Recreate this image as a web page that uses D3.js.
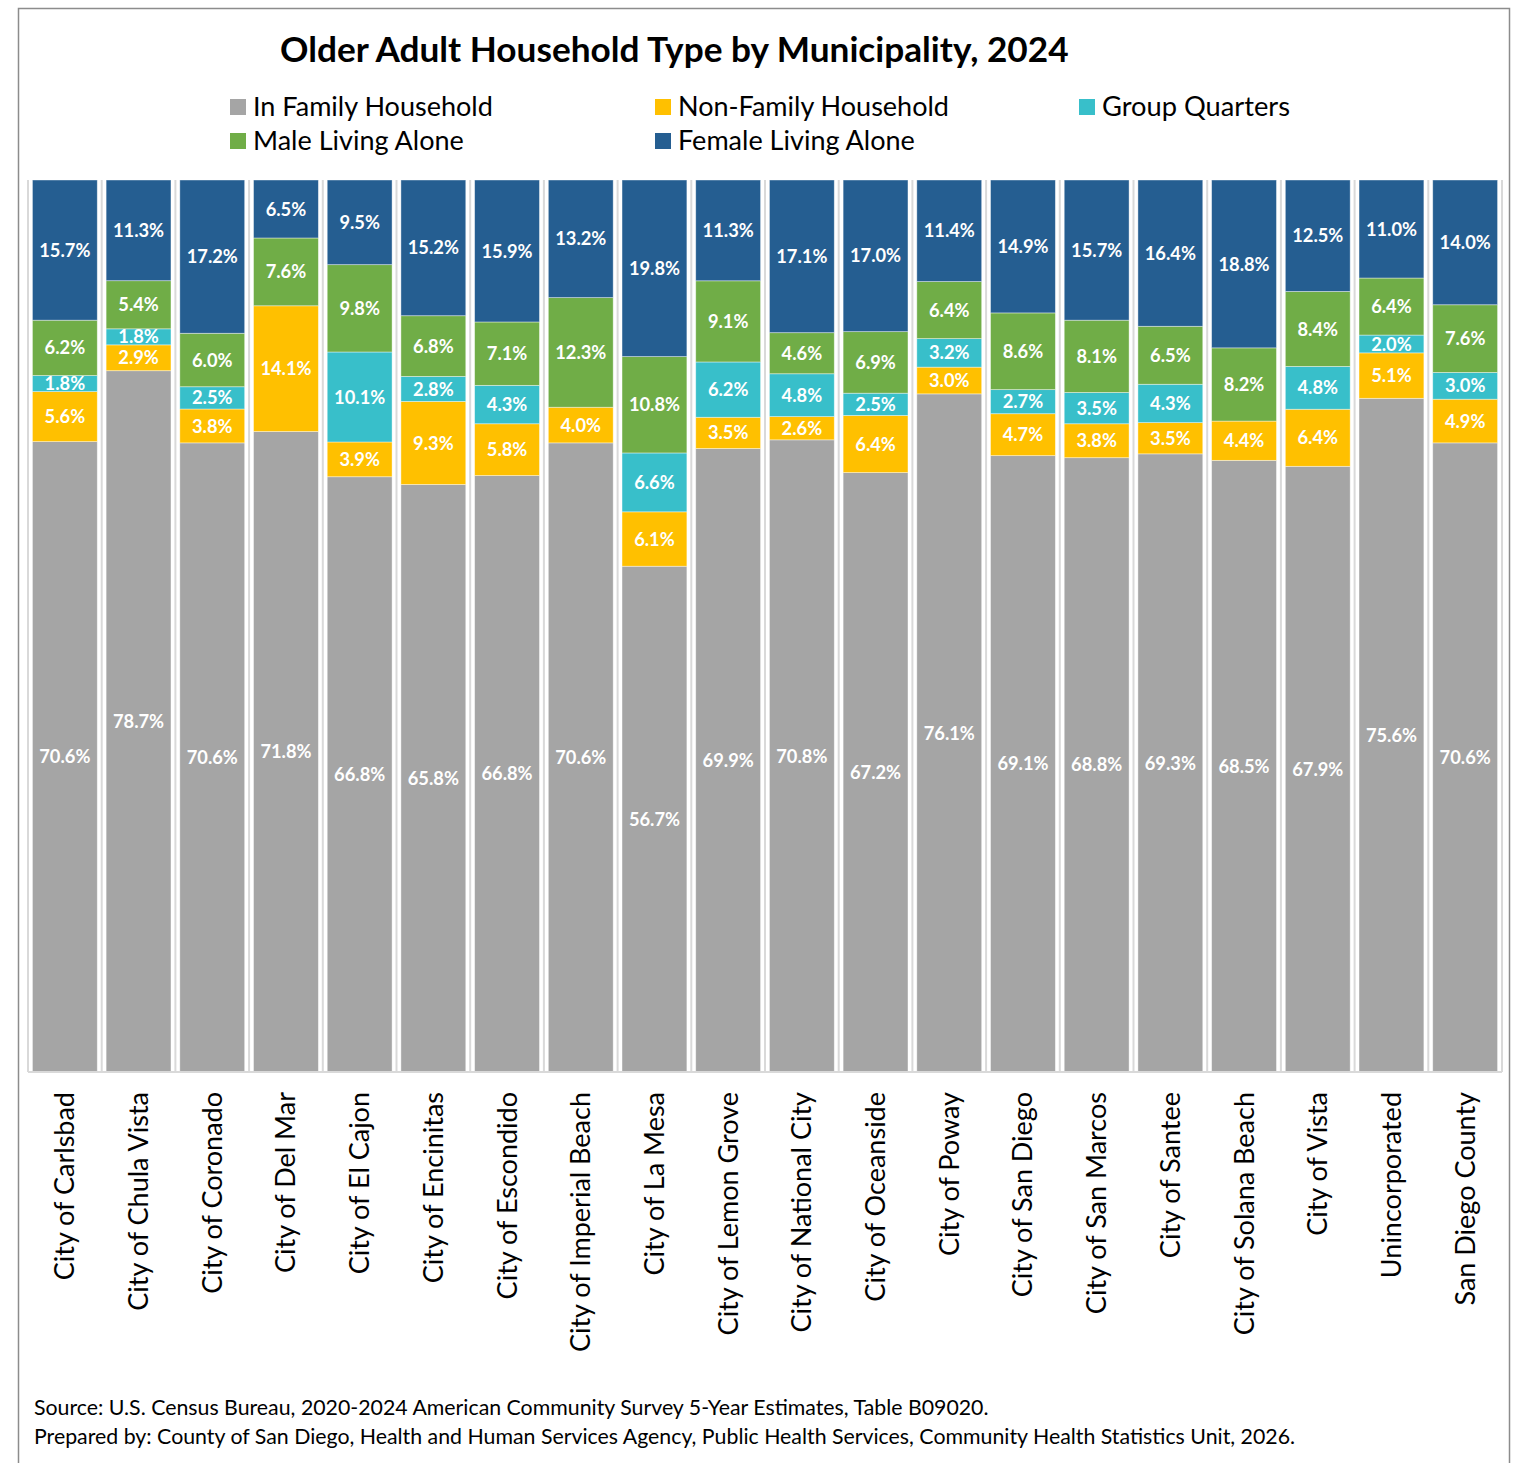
<!DOCTYPE html>
<html>
<head>
<meta charset="utf-8">
<script src="https://cdn.jsdelivr.net/npm/d3@7"></script>
<style>
  body { margin: 0; background: #fff; }
  svg text { font-family: Lato, "Open Sans", sans-serif; }
</style>
</head>
<body>
<div id="chart"></div>
<script>
// data
const places = ["City of Carlsbad", "City of Chula Vista", "City of Coronado", "City of Del Mar",
  "City of El Cajon", "City of Encinitas", "City of Escondido", "City of Imperial Beach",
  "City of La Mesa", "City of Lemon Grove", "City of National City", "City of Oceanside",
  "City of Poway", "City of San Diego", "City of San Marcos", "City of Santee",
  "City of Solana Beach", "City of Vista", "Unincorporated", "San Diego County"];
const inFamily   = [70.6, 78.7, 70.6, 71.8, 66.8, 65.8, 66.8, 70.6, 56.7, 69.9, 70.8, 67.2, 76.1, 69.1, 68.8, 69.3, 68.5, 67.9, 75.6, 70.6];
const nonFamily  = [5.6, 2.9, 3.8, 14.1, 3.9, 9.3, 5.8, 4.0, 6.1, 3.5, 2.6, 6.4, 3.0, 4.7, 3.8, 3.5, 4.4, 6.4, 5.1, 4.9];
const groupQtrs  = [1.8, 1.8, 2.5, 0, 10.1, 2.8, 4.3, 0, 6.6, 6.2, 4.8, 2.5, 3.2, 2.7, 3.5, 4.3, 0, 4.8, 2.0, 3.0];
const maleAlone  = [6.2, 5.4, 6.0, 7.6, 9.8, 6.8, 7.1, 12.3, 10.8, 9.1, 4.6, 6.9, 6.4, 8.6, 8.1, 6.5, 8.2, 8.4, 6.4, 7.6];
const femaleAlone = [15.7, 11.3, 17.2, 6.5, 9.5, 15.2, 15.9, 13.2, 19.8, 11.3, 17.1, 17.0, 11.4, 14.9, 15.7, 16.4, 18.8, 12.5, 11.0, 14.0];
const seriesNames = ["In Family Household", "Non-Family Household", "Group Quarters", "Male Living Alone", "Female Living Alone"];
const seriesColors = ["#a5a5a5", "#ffc000", "#38bfca", "#70ad47", "#255e91"];

const W = 1522, H = 1463;
const margin = { left: 28, right: 20, top: 180, bottom: 391 }; // plot: 28..1502, 180..1072

const svg = d3.select("#chart").append("svg")
  .attr("width", W).attr("height", H);

// outer frame
svg.append("rect")
  .attr("x", 18.5).attr("y", 8.5).attr("width", 1491).attr("height", 1470)
  .attr("fill", "none").attr("stroke", "#8c8c8c").attr("stroke-width", 1.5);

// fit text to a target width (font metrics differ from the original)
function fit(sel, width) {
  const len = sel.node().getComputedTextLength();
  const fs = parseFloat(sel.attr("font-size"));
  sel.attr("font-size", fs * width / len);
}

fit(svg.append("text")
  .attr("x", 280).attr("y", 62)
  .attr("font-size", 32).attr("font-weight", 700).attr("fill", "#000")
  .text("Older Adult Household Type by Municipality, 2024"), 789);

// legend
const legendPos = [[230, 107], [655, 107], [1079, 107], [230, 141], [655, 141]];
const legendWidths = [240, 271, 188, 211, 237];
seriesNames.forEach((name, i) => {
  const [lx, ly] = legendPos[i];
  svg.append("rect").attr("x", lx).attr("y", ly - 8).attr("width", 16).attr("height", 16)
    .attr("fill", seriesColors[i]);
  fit(svg.append("text").attr("x", lx + 23).attr("y", ly + 9)
    .attr("font-size", 26).attr("fill", "#000").text(name), legendWidths[i]);
});

const rows = places.map((p, i) => ({
  place: p,
  s0: inFamily[i], s1: nonFamily[i], s2: groupQtrs[i], s3: maleAlone[i], s4: femaleAlone[i]
}));
const keys = ["s0", "s1", "s2", "s3", "s4"];

const x = d3.scaleBand().domain(places)
  .range([margin.left, W - margin.right])
  .paddingInner(0.12).paddingOuter(0.06);
const y = d3.scaleLinear().domain([0, 1]).range([H - margin.bottom, margin.top]);

// category separators like the vertical gridlines in the original
const edges = d3.range(places.length + 1).map(i => margin.left + i * x.step());
svg.append("g").selectAll("line").data(edges).join("line")
  .attr("x1", d => d).attr("x2", d => d)
  .attr("y1", margin.top).attr("y2", H - margin.bottom)
  .attr("stroke", "#d9d9d9").attr("stroke-width", 2);

const stack = d3.stack().keys(keys).offset(d3.stackOffsetExpand);
const layers = stack(rows);

const g = svg.append("g");
g.selectAll("g.layer").data(layers).join("g")
  .attr("class", "layer")
  .attr("fill", (d, i) => seriesColors[i])
  .selectAll("rect").data(d => d).join("rect")
  .attr("x", d => x(d.data.place))
  .attr("width", x.bandwidth())
  .attr("y", d => y(d[1]))
  .attr("height", d => y(d[0]) - y(d[1]))
  .attr("stroke", "rgba(255,255,255,0.5)").attr("stroke-width", 0.8);

// value labels
layers.forEach((layer, li) => {
  g.append("g").selectAll("text")
    .data(layer.filter(d => d.data[layer.key] > 0)).join("text")
    .attr("x", d => x(d.data.place) + x.bandwidth() / 2)
    .attr("y", d => (y(d[0]) + y(d[1])) / 2)
    .attr("dy", "0.36em")
    .attr("text-anchor", "middle")
    .attr("font-size", 18.3).attr("font-weight", 700).attr("fill", "#fff")
    .text(d => d.data[layer.key].toFixed(1) + "%");
});

// baseline
svg.append("line")
  .attr("x1", margin.left).attr("x2", W - margin.right)
  .attr("y1", H - margin.bottom).attr("y2", H - margin.bottom)
  .attr("stroke", "#d9d9d9").attr("stroke-width", 2);

// x axis labels, rotated
const xAxis = svg.append("g")
  .attr("transform", `translate(0,${H - margin.bottom})`)
  .call(d3.axisBottom(x).tickSize(0).tickPadding(0));
xAxis.select(".domain").remove();
xAxis.selectAll("text")
  .attr("font-family", "Lato, 'Open Sans', sans-serif")
  .attr("font-size", 27).attr("fill", "#000")
  .attr("transform", "rotate(-90)")
  .attr("text-anchor", "end")
  .attr("x", -20).attr("y", 0).attr("dy", "0.35em");

// footer notes
fit(svg.append("text").attr("x", 34).attr("y", 1415).attr("font-size", 20).attr("fill", "#000")
  .text("Source: U.S. Census Bureau, 2020-2024 American Community Survey 5-Year Estimates, Table B09020."), 955);
fit(svg.append("text").attr("x", 34).attr("y", 1444).attr("font-size", 20).attr("fill", "#000")
  .text("Prepared by: County of San Diego, Health and Human Services Agency, Public Health Services, Community Health Statistics Unit, 2026."), 1262);
</script>
</body>
</html>
